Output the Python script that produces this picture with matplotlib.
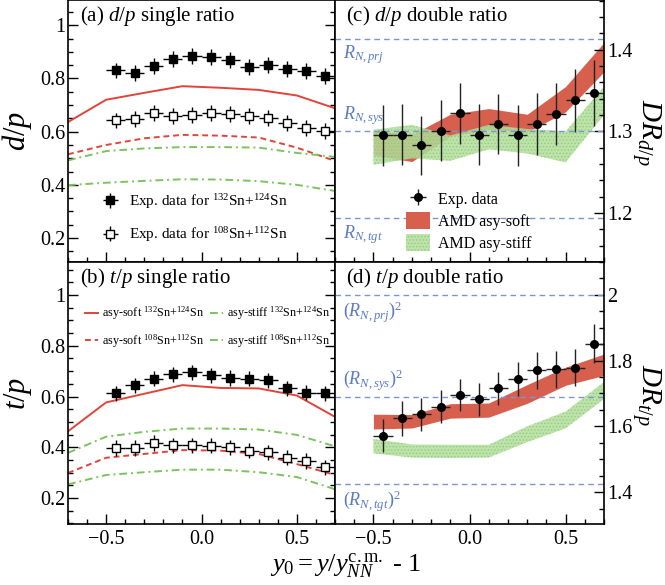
import matplotlib.pyplot as plt
from matplotlib.ticker import MultipleLocator

plt.rcParams['font.family'] = 'Liberation Serif'
plt.rcParams['mathtext.fontset'] = 'custom'
plt.rcParams['mathtext.rm'] = 'Liberation Serif'
plt.rcParams['mathtext.it'] = 'Liberation Serif:italic'
plt.rcParams['mathtext.bf'] = 'Liberation Serif:bold'
plt.rcParams['hatch.linewidth'] = 0.6

# ---- data -----------------------------------------------------------------
y0 = [-0.45, -0.35, -0.25, -0.15, -0.05, 0.05, 0.15, 0.25, 0.35, 0.45, 0.55, 0.65]
y0_err = 0.05

dp_132 = [0.830, 0.821, 0.848, 0.874, 0.885, 0.881, 0.871, 0.842, 0.849, 0.836, 0.828, 0.811]
dp_108 = [0.642, 0.646, 0.670, 0.659, 0.664, 0.670, 0.665, 0.659, 0.651, 0.631, 0.612, 0.601]
tp_132 = [0.613, 0.645, 0.670, 0.687, 0.696, 0.683, 0.673, 0.670, 0.664, 0.633, 0.615, 0.613]
tp_108 = [0.397, 0.397, 0.417, 0.408, 0.408, 0.406, 0.400, 0.387, 0.381, 0.359, 0.346, 0.321]
single_err = 0.03

dr_dp = [1.295, 1.296, 1.283, 1.301, 1.322, 1.296, 1.309, 1.295, 1.309, 1.321, 1.338, 1.347]
dr_dp_err = [0.037, 0.037, 0.036, 0.037, 0.037, 0.037, 0.037, 0.037, 0.038, 0.038, 0.039, 0.040]
dr_tp = [1.572, 1.624, 1.637, 1.660, 1.695, 1.683, 1.716, 1.743, 1.770, 1.773, 1.778, 1.852]
dr_tp_err = [0.050, 0.053, 0.050, 0.050, 0.049, 0.050, 0.050, 0.052, 0.055, 0.056, 0.056, 0.060]

# AMD model curves (single ratios)
x_model = [-0.7, -0.5, -0.3, -0.1, 0.1, 0.3, 0.5, 0.7]
dp_soft_132 = [0.636, 0.720, 0.746, 0.771, 0.765, 0.757, 0.736, 0.688]
dp_soft_108 = [0.515, 0.550, 0.575, 0.588, 0.585, 0.578, 0.540, 0.490]
dp_stiff_132 = [0.492, 0.527, 0.537, 0.542, 0.542, 0.540, 0.520, 0.505]
dp_stiff_108 = [0.399, 0.408, 0.415, 0.421, 0.420, 0.414, 0.400, 0.377]
tp_soft_132 = [0.463, 0.577, 0.611, 0.645, 0.634, 0.632, 0.604, 0.520]
tp_soft_108 = [0.299, 0.359, 0.374, 0.389, 0.387, 0.374, 0.334, 0.291]
tp_stiff_132 = [0.378, 0.442, 0.461, 0.474, 0.474, 0.470, 0.449, 0.404]
tp_stiff_108 = [0.254, 0.291, 0.302, 0.312, 0.312, 0.302, 0.283, 0.235]

# AMD model bands (double ratios)
x_band = [-0.5, -0.3, -0.1, 0.1, 0.3, 0.5, 0.7]
drdp_soft_hi = [1.301, 1.296, 1.321, 1.328, 1.321, 1.355, 1.409]
drdp_soft_lo = [1.271, 1.263, 1.294, 1.303, 1.299, 1.324, 1.373]
drdp_stiff_hi = [1.302, 1.308, 1.295, 1.308, 1.303, 1.300, 1.355]
drdp_stiff_lo = [1.259, 1.267, 1.264, 1.278, 1.273, 1.262, 1.320]
drtp_soft_hi = [1.637, 1.636, 1.669, 1.671, 1.727, 1.780, 1.820]
drtp_soft_lo = [1.592, 1.595, 1.625, 1.628, 1.670, 1.725, 1.755]
drtp_stiff_hi = [1.562, 1.545, 1.544, 1.544, 1.600, 1.645, 1.735]
drtp_stiff_lo = [1.518, 1.505, 1.504, 1.505, 1.552, 1.594, 1.683]

# N/Z reference values
rn_prj, rn_sys, rn_tgt = 82 / 58, 156 / 120, 74 / 62

C_RED = "#e0443a"
C_GREEN = "#7cc35e"
C_BAND_RED = "#d6604d"
C_BAND_GREEN = "#b2dd9c"
C_REF = "#7c94d2"
C_REF_TXT = "#5b7bc4"

W, H = 665, 585
fig = plt.figure(figsize=(W / 100, H / 100), dpi=100)
axa = fig.add_axes([68 / W, 1 - 262 / H, 267 / W, 262 / H])
axb = fig.add_axes([68 / W, 61 / H, 267 / W, 262 / H])
axc = fig.add_axes([335 / W, 1 - 262 / H, 269 / W, 262 / H])
axd = fig.add_axes([335 / W, 61 / H, 269 / W, 262 / H])

for ax in (axa, axb, axc, axd):
    ax.set_xlim(-0.7, 0.7)
    ax.xaxis.set_major_locator(MultipleLocator(0.5))
    ax.xaxis.set_minor_locator(MultipleLocator(0.1))
    ax.tick_params(which='both', direction='in', labelsize=14.5, top=False)
    ax.tick_params(which='major', length=7, width=1)
    ax.tick_params(which='minor', length=3.5, width=1)
    for s in ax.spines.values():
        s.set_linewidth(1.2)
for ax in (axa, axc):
    ax.tick_params(axis='x', labelbottom=False)
for ax in (axb, axd):
    ax.tick_params(axis='x', pad=4)

# ---- left panels: single ratios --------------------------------------------
for ax, ylim in ((axa, (0.11, 1.095)), (axb, (0.098, 1.13))):
    ax.set_ylim(*ylim)
    ax.yaxis.set_major_locator(MultipleLocator(0.2))
    ax.yaxis.set_minor_locator(MultipleLocator(0.05))
    ax.yaxis.set_major_formatter(plt.FuncFormatter(lambda v, p: f"{v:g}"))
    ax.tick_params(axis='y', which='both', left=True, right=True, pad=2)


def model_lines(ax, soft132, soft108, stiff132, stiff108):
    ax.plot(x_model, soft132, color=C_RED, lw=1.4, label=r'asy-soft $^{132}$Sn+$^{124}$Sn')
    ax.plot(x_model, soft108, color=C_RED, lw=1.4, ls=(0, (3, 2)),
            label=r'asy-soft $^{108}$Sn+$^{112}$Sn')
    ax.plot(x_model, stiff132, color=C_GREEN, lw=1.4, ls=(0, (4, 2, 1, 2)),
            label=r'asy-stiff $^{132}$Sn+$^{124}$Sn')
    ax.plot(x_model, stiff108, color=C_GREEN, lw=1.4, ls=(0, (4, 2, 1, 2)),
            label=r'asy-stiff $^{108}$Sn+$^{112}$Sn')


def exp_points(ax, v132, v108):
    e1 = ax.errorbar(y0, v132, yerr=single_err, xerr=y0_err, fmt='s', ms=5.3,
                     color='black', mfc='black', elinewidth=1.0, capsize=0,
                     label=r'Exp. data for $^{132}$Sn+$^{124}$Sn')
    e2 = ax.errorbar(y0, v108, yerr=single_err, xerr=y0_err, fmt='s', ms=5.3,
                     color='black', mfc='white', mew=1.0, elinewidth=1.0, capsize=0,
                     label=r'Exp. data for $^{108}$Sn+$^{112}$Sn')
    return e1, e2


model_lines(axa, dp_soft_132, dp_soft_108, dp_stiff_132, dp_stiff_108)
e1, e2 = exp_points(axa, dp_132, dp_108)
axa.legend(handles=[e1, e2], loc='lower left', bbox_to_anchor=(0.09, 0.045),
           frameon=False, fontsize=11, handlelength=1.6, handletextpad=0.4,
           labelspacing=0.95, borderaxespad=0)
axa.text(0.045, 0.985, r'(a) $d/p$ single ratio', transform=axa.transAxes,
         fontsize=15, va='top', ha='left')
axa.set_ylabel(r'$d/p$', fontsize=22, labelpad=4)

model_lines(axb, tp_soft_132, tp_soft_108, tp_stiff_132, tp_stiff_108)
exp_points(axb, tp_132, tp_108)
h, l = axb.get_legend_handles_labels()
axb.legend(h[:4], l[:4], ncol=2, loc='upper left', bbox_to_anchor=(0.045, 0.855),
           frameon=False, fontsize=8.7, handlelength=1.1, handletextpad=0.3,
           columnspacing=0.5, labelspacing=0.8, borderaxespad=0)
axb.text(0.045, 0.985, r'(b) $t/p$ single ratio', transform=axb.transAxes,
         fontsize=15, va='top', ha='left')
axb.set_ylabel(r'$t/p$', fontsize=22, labelpad=4)

# ---- right panels: double ratios -------------------------------------------
for ax in (axc, axd):
    ax.yaxis.tick_right()
    ax.tick_params(axis='y', which='both', left=False, right=True,
                   labelleft=False, labelright=True, pad=2)
    ax.yaxis.set_major_formatter(plt.FuncFormatter(lambda v, p: f"{v:g}"))

axc.set_ylim(1.14, 1.461)
axc.yaxis.set_major_locator(MultipleLocator(0.1))
axc.yaxis.set_minor_locator(MultipleLocator(0.02))
for v in (rn_prj, rn_sys, rn_tgt):
    axc.axhline(v, color=C_REF, lw=1, ls=(0, (4, 3)))
axc.fill_between(x_band, drdp_soft_lo, drdp_soft_hi, color=C_BAND_RED, lw=0,
                 label='AMD asy-soft')
axc.fill_between(x_band, drdp_stiff_lo, drdp_stiff_hi, facecolor=C_BAND_GREEN,
                 edgecolor='#8ccb70', hatch='.....', lw=0, alpha=0.85,
                 label='AMD asy-stiff')
ec = axc.errorbar(y0, dr_dp, yerr=dr_dp_err, xerr=y0_err, fmt='o', ms=5.5,
                  color='black', ecolor='#222222', elinewidth=1.0, capsize=0,
                  label='Exp. data')
axc.text(0.04, 0.985, r'(c) $d/p$ double ratio', transform=axc.transAxes,
         fontsize=15, va='top', ha='left')
axc.text(-0.66, rn_prj - 0.006, r'$R_{N,prj}$', color=C_REF_TXT, fontsize=13, va='top')
axc.text(-0.66, rn_sys + 0.005, r'$R_{N,sys}$', color=C_REF_TXT, fontsize=13, va='bottom')
axc.text(-0.66, rn_tgt - 0.006, r'$R_{N,tgt}$', color=C_REF_TXT, fontsize=13, va='top')
hc, lc = axc.get_legend_handles_labels()
axc.legend([ec, hc[0], hc[1]], ['Exp. data', 'AMD asy-soft', 'AMD asy-stiff'],
           loc='lower left', bbox_to_anchor=(0.24, 0.015), frameon=False,
           fontsize=11.5, handlelength=1.5, handleheight=1.3, handletextpad=0.5,
           labelspacing=0.25, borderaxespad=0)

axd.set_ylim(1.303, 2.1)
axd.yaxis.set_major_locator(MultipleLocator(0.2))
axd.yaxis.set_minor_locator(MultipleLocator(0.05))
for v in (rn_prj ** 2, rn_sys ** 2, rn_tgt ** 2):
    axd.axhline(v, color=C_REF, lw=1, ls=(0, (4, 3)))
axd.fill_between(x_band, drtp_soft_lo, drtp_soft_hi, color=C_BAND_RED, lw=0)
axd.fill_between(x_band, drtp_stiff_lo, drtp_stiff_hi, facecolor=C_BAND_GREEN,
                 edgecolor='#8ccb70', hatch='.....', lw=0, alpha=0.85)
axd.errorbar(y0, dr_tp, yerr=dr_tp_err, xerr=y0_err, fmt='o', ms=5.5,
             color='black', ecolor='#222222', elinewidth=1.0, capsize=0)
axd.text(0.04, 0.985, r'(d) $t/p$ double ratio', transform=axd.transAxes,
         fontsize=15, va='top', ha='left')
axd.text(-0.66, rn_prj ** 2 - 0.015, r'$(R_{N,prj})^2$', color=C_REF_TXT, fontsize=13, va='top')
axd.text(-0.66, rn_sys ** 2 + 0.012, r'$(R_{N,sys})^2$', color=C_REF_TXT, fontsize=13, va='bottom')
axd.text(-0.66, rn_tgt ** 2 - 0.015, r'$(R_{N,tgt})^2$', color=C_REF_TXT, fontsize=13, va='top')

fig.text(646 / W, 1 - 132 / H, r'$DR_{d/p}$', rotation=270, fontsize=21,
         ha='center', va='center')
fig.text(646 / W, 1 - 395 / H, r'$DR_{t/p}$', rotation=270, fontsize=21,
         ha='center', va='center')
fig.text(346 / W, 1 - 571 / H, r'$y_0 = y/y^{\rm c.m.}_{NN}$ - 1', fontsize=19,
         ha='center', va='baseline')

fig.savefig('out.png', dpi=100)
